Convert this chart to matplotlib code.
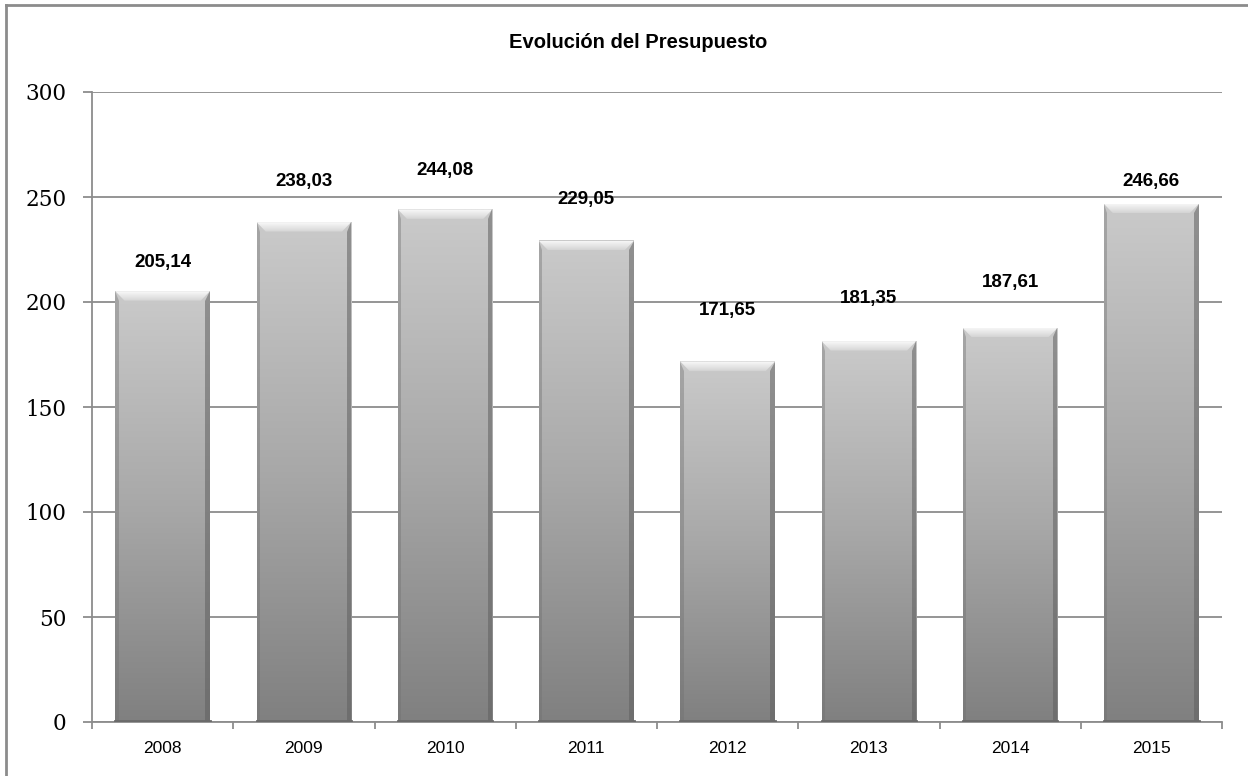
import matplotlib.pyplot as plt
import numpy as np
from matplotlib.patches import Polygon
from matplotlib.lines import Line2D

years = ['2008', '2009', '2010', '2011', '2012', '2013', '2014', '2015']
presupuesto = [205.14, 238.03, 244.08, 229.05, 171.65, 181.35, 187.61, 246.66]
labels = ['205,14', '238,03', '244,08', '229,05', '171,65', '181,35', '187,61', '246,66']
yticks = [0, 50, 100, 150, 200, 250, 300]

# label offsets above each bar (points), as placed in the original
label_off = [21, 29.5, 28, 30, 36.5, 31, 33, 16.5]

fig = plt.figure(figsize=(12.48, 7.76), dpi=100)
ax = fig.add_axes([92 / 1248, 1 - 722 / 776, 1130 / 1248, 630 / 776])

# outer frame (only top and left visible)
fig.add_artist(Line2D([6 / 1248, 1], [1 - 5 / 776, 1 - 5 / 776], transform=fig.transFigure, color='#8c8c8c', lw=2))
fig.add_artist(Line2D([6 / 1248, 6 / 1248], [0, 1 - 5 / 776], transform=fig.transFigure, color='#8c8c8c', lw=2))

ax.set_xlim(-0.5, len(years) - 0.5)
ax.set_ylim(0, 300)

w = 0.335
bev_x = 0.065
bev_y = 4.5
grad = np.linspace(0, 1, 256).reshape(-1, 1)
cmap = plt.matplotlib.colors.LinearSegmentedColormap.from_list('g', ['#808080', '#a8a8a8', '#cacaca'])
tcmap = plt.matplotlib.colors.LinearSegmentedColormap.from_list('t', ['#d4d4d4', '#fafafa'])

for i, v in enumerate(presupuesto):
    x0, x1 = i - w, i + w
    ax.imshow(grad, extent=(x0, x1, 0, v), origin='lower', cmap=cmap, aspect='auto', zorder=3)
    # bevel: top light, right dark, left slightly dark
    top = Polygon([[x0, v], [x1, v], [x1 - bev_x, v - bev_y], [x0 + bev_x, v - bev_y]],
                  closed=True, facecolor='none', edgecolor='none', zorder=4)
    ax.add_patch(top)
    im = ax.imshow(grad, extent=(x0, x1, v - bev_y, v), origin='lower', cmap=tcmap, aspect='auto', zorder=4)
    im.set_clip_path(top)
    ax.add_patch(Polygon([[x1, v], [x1, 0], [x1 - bev_x * 0.5, 0], [x1 - bev_x * 0.5, v - bev_y]],
                         closed=True, facecolor='#606060', edgecolor='none', alpha=0.55, zorder=4))
    ax.add_patch(Polygon([[x0, v], [x0, 0], [x0 + bev_x * 0.35, 0], [x0 + bev_x * 0.35, v - bev_y]],
                         closed=True, facecolor='#707070', edgecolor='none', alpha=0.4, zorder=4))
    ax.plot([x0, x1], [0.5, 0.5], color='#6a6a6a', lw=2, zorder=4)
    ax.annotate(labels[i], (i, v), xytext=(0, label_off[i]), textcoords='offset points',
                ha='center', va='center', fontsize=13.5, fontweight='bold',
                family='Liberation Sans', zorder=5)

ax.set_yticks(yticks)
ax.set_yticklabels([str(t) for t in yticks], family='DejaVu Serif', fontsize=15.5)
ax.set_xticks(range(len(years)))
ax.set_xticklabels(years, family='Liberation Sans', fontsize=12.5)
ax.set_xticks(np.arange(-0.5, len(years)), minor=True)
ax.tick_params(axis='x', which='major', length=0, pad=14)
ax.tick_params(axis='x', which='minor', length=5, color='#8c8c8c', width=1.3)
ax.tick_params(axis='y', length=6.5, color='#8c8c8c', width=1.3, pad=12)

ax.grid(axis='y', color='#8c8c8c', lw=1.3, zorder=1)
ax.set_axisbelow(True)
for s in ['top', 'right']:
    ax.spines[s].set_visible(False)
for s in ['left', 'bottom']:
    ax.spines[s].set_color('#8c8c8c')
    ax.spines[s].set_linewidth(1.3)

fig.text(638 / 1248, 1 - 43 / 776, 'Evolución del Presupuesto', ha='center', va='center',
         fontsize=14.5, fontweight='bold', family='Liberation Sans')

plt.savefig('out.png', dpi=100)
plt.close()
